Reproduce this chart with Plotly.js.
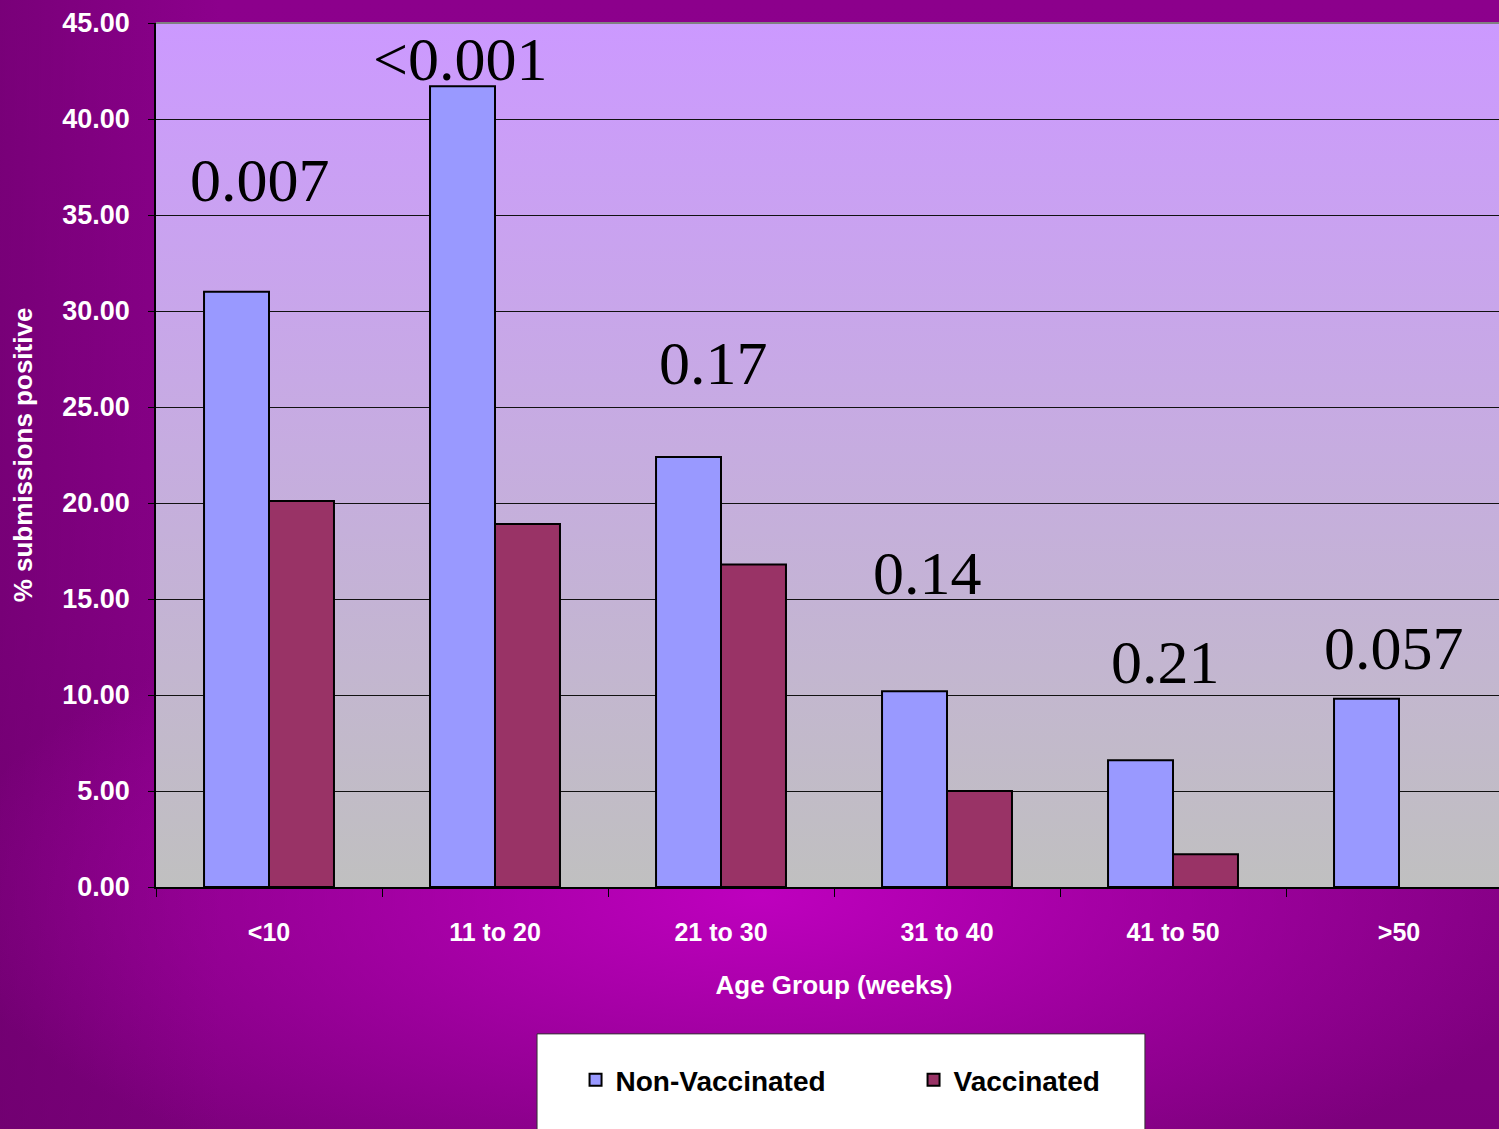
<!DOCTYPE html>
<html>
<head>
<meta charset="utf-8">
<script src="https://cdn.plot.ly/plotly-3.0.1.min.js"></script>
<style>
  html, body { margin: 0; padding: 0; overflow: hidden; width: 1499px; height: 1129px; }
  body {
    background:
      radial-gradient(ellipse 820px 330px at 760px 895px, rgba(190,0,190,1) 0%, rgba(190,0,190,0) 100%),
      linear-gradient(to right, rgba(105,0,105,0.55) 0px, rgba(105,0,105,0) 220px),
      linear-gradient(to bottom, #8c008c 0%, #880088 55%, #7c007c 100%);
  }
  #chart { width: 1515px; height: 1129px; }
</style>
</head>
<body>
<div id="chart"></div>
<script>
// Percentage of submissions testing positive, by age group
const ageGroups = ['<10', '11 to 20', '21 to 30', '31 to 40', '41 to 50', '>50'];
const nonVaccinated = [31.0, 41.7, 22.4, 10.2, 6.6, 9.8];
const vaccinated = [20.1, 18.9, 16.8, 5.0, 1.7, null];
const pValues = ['0.007', '<0.001', '0.17', '0.14', '0.21', '0.057'];
const yTicks = [0, 5, 10, 15, 20, 25, 30, 35, 40, 45];

// Placement of each p-value label (category offset, height on value axis)
const pLabelX = [-0.04, 0.845, 1.969, 2.912, 3.969, 4.98];
const pLabelY = [36.8, 43.1, 27.3, 16.35, 11.7, 12.45];

const sans = 'Liberation Sans, Arial, sans-serif';
const serif = 'Liberation Serif, Times New Roman, serif';

// Vertical lilac-to-grey fill for the plotting area
const plotFill = 'data:image/svg+xml;utf8,' + encodeURIComponent(
  '<svg xmlns="http://www.w3.org/2000/svg" width="100" height="100" preserveAspectRatio="none">' +
  '<defs><linearGradient id="g" x1="0" y1="0" x2="0" y2="1">' +
  '<stop offset="0" stop-color="#cc99ff"/><stop offset="1" stop-color="#c0c0c0"/>' +
  '</linearGradient></defs><rect width="100" height="100" fill="url(#g)"/></svg>');

const traces = [
  {
    type: 'bar', name: 'Non-Vaccinated', x: ageGroups, y: nonVaccinated,
    marker: { color: '#9999ff', line: { color: '#000000', width: 2 } },
    hoverinfo: 'x+y'
  },
  {
    type: 'bar', name: 'Vaccinated', x: ageGroups, y: vaccinated,
    marker: { color: '#993366', line: { color: '#000000', width: 2 } },
    hoverinfo: 'x+y'
  }
];

const annotations = pValues.map((t, i) => ({
  text: t, x: pLabelX[i], y: pLabelY[i], xref: 'x', yref: 'y',
  showarrow: false, xanchor: 'center', yanchor: 'middle',
  font: { family: serif, size: 62, color: '#000000', weight: 'normal' }
}));

const layout = {
  width: 1515, height: 1129,
  margin: { l: 156, r: 3, t: 23, b: 242 },
  paper_bgcolor: 'rgba(0,0,0,0)',
  plot_bgcolor: 'rgba(0,0,0,0)',
  barmode: 'group', bargap: 0.425, bargroupgap: 0,
  font: { family: sans, color: '#ffffff', size: 26, weight: 'bold' },
  images: [{
    source: plotFill, xref: 'paper', yref: 'paper', x: 0, y: 1,
    sizex: 1, sizey: 1, sizing: 'stretch', xanchor: 'left', yanchor: 'top', layer: 'below'
  }],
  xaxis: {
    type: 'category', tickson: 'boundaries', ticks: 'outside', ticklen: 8,
    tickcolor: '#000000', tickwidth: 1,
    showline: true, linecolor: '#000000', linewidth: 2,
    showgrid: false, ticklabelstandoff: 22,
    tickfont: { family: sans, size: 25, color: '#ffffff', weight: 'bold' },
    title: { text: 'Age Group (weeks)', standoff: 31,
             font: { family: sans, size: 26, color: '#ffffff', weight: 'bold' } },
    fixedrange: true
  },
  yaxis: {
    range: [0, 45], tickvals: yTicks, tickformat: '.2f',
    ticks: 'outside', ticklen: 6, tickcolor: '#000000', tickwidth: 1,
    showline: true, linecolor: '#000000', linewidth: 1.5,
    showgrid: true, gridcolor: '#111111', gridwidth: 1,
    zeroline: false, ticklabelstandoff: 13,
    tickfont: { family: sans, size: 27, color: '#ffffff', weight: 'bold' },
    title: { text: '% submissions positive', standoff: 22,
             font: { family: sans, size: 26, color: '#ffffff', weight: 'bold' } },
    fixedrange: true
  },
  shapes: [
    // grey top edge of the plotting area
    { type: 'line', xref: 'paper', yref: 'paper', x0: 0, x1: 1, y0: 1, y1: 1,
      line: { color: '#808080', width: 2 } },
    // white legend panel
    { type: 'rect', xref: 'paper', yref: 'paper', x0: 0.281, x1: 0.7293, y0: -0.170, y1: -0.30,
      fillcolor: '#ffffff', line: { color: '#333333', width: 1 }, layer: 'below' }
  ],
  showlegend: true,
  legend: {
    orientation: 'h', x: 0.3094, xanchor: 'left', y: -0.2234, yanchor: 'middle',
    bgcolor: 'rgba(0,0,0,0)', borderwidth: 0,
    entrywidthmode: 'pixels', entrywidth: 293,
    font: { family: sans, size: 28, color: '#000000', weight: 'bold' },
    traceorder: 'normal'
  },
  annotations: annotations
};

Plotly.newPlot('chart', traces, layout, { displayModeBar: false });
</script>
</body>
</html>
